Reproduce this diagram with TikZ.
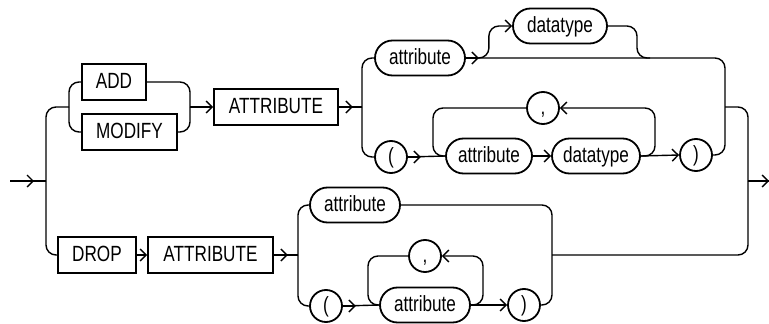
\documentclass[tikz,border=0pt]{standalone}
\usepackage{fontspec}
\setmainfont{Liberation Sans}[FakeStretch=0.78]
\usetikzlibrary{arrows.meta,shapes.misc}
\begin{document}
\begin{tikzpicture}[x=1pt,y=-1pt,
  every node/.style={inner sep=0pt, font=\fontsize{22}{25}\selectfont, text height=15.5pt, text depth=3pt},
  kw/.style={draw, rectangle, line width=1.8pt, minimum height=36pt},
  pill/.style={draw, rounded rectangle, line width=1.8pt, minimum height=35pt},
  circ/.style={draw, circle, line width=1.8pt, minimum size=32pt},
  conn/.style={line width=1.4pt, rounded corners=10pt},
  arr/.style={line width=1.4pt, -{Straight Barb[length=6pt,width=12pt]}}
]
\useasboundingbox (0,0) rectangle (769,324);
% nodes
\node[kw, minimum width=64pt] (add) at (114,82) {ADD};
\node[kw, minimum width=95pt] (modify) at (129.5,132) {MODIFY};
\node[kw, minimum width=124pt] (attrA) at (276,107) {ATTRIBUTE};
\node[kw, minimum width=78pt] (drop) at (97,255) {DROP};
\node[kw, minimum width=125pt] (attrB) at (210.5,255) {ATTRIBUTE};
\node[pill, minimum width=90pt] (a1) at (420,58) {attribute};
\node[pill, minimum width=94pt] (dt1) at (560,26) {datatype};
\node[circ] (lp1) at (391,157) {(};
\node[pill, minimum width=86pt] (a2) at (489,156) {attribute};
\node[pill, minimum width=88pt] (dt2) at (596,156) {datatype};
\node[circ] (cm1) at (543,108) {,};
\node[circ] (rp1) at (696,155) {)};
\node[pill, minimum width=90pt] (a3) at (355,205) {attribute};
\node[circ] (lp2) at (326,306) {(};
\node[pill, minimum width=90pt] (a4) at (425,305) {attribute};
\node[circ] (cm2) at (425,256) {,};
\node[circ] (rp2) at (524,305) {)};
% junction coordinates
\coordinate (in) at (10,181);
\coordinate (L) at (46,181);
\coordinate (F0) at (69,107);
\coordinate (J0) at (190,107);
\coordinate (F1) at (362,107);
\coordinate (F2) at (298,255);
\coordinate (R) at (748,181);
\coordinate (out) at (769,181);
% entry
\draw[conn] (in) -- (L);
\draw[arr] (in) -- ++(24,0);
\draw[conn] (L) |- (F0);
\draw[conn] (L) |- (drop.west);
% ADD / MODIFY
\draw[conn] (F0) |- (add.west);
\draw[conn] (F0) |- (modify.west);
\draw[conn] (add.east) -| (J0);
\draw[conn] (modify.east) -| (J0);
\draw[arr] (J0) -- (attrA.west);
\draw[conn] (attrA.east) -- (F1);
\draw[arr] (attrA.east) -- ++(14,0);
\draw[conn] (F1) |- (a1.west);
\draw[conn] (F1) |- (lp1.west);
% attribute [datatype]
\draw[arr] (a1.east) -- ++(13,0);
\draw[conn] (a1.east) -- (725,58) -- (725,155) -- (rp1.east);
\draw[conn,arr] (a1.east) -- ++(23,0) |- (dt1.west);
\draw[conn] (dt1.east) -- (637,26) -- (637,58) -- (650,58);
% ( attribute datatype , ... )
\draw[conn] (lp1.east) -- (a2.west);
\draw[arr] (lp1.east) -- ++(13,0);
\draw[arr] (a2.east) -- (dt2.west);
\draw[arr] (dt2.east) -- (rp1.west);
\draw[conn,arr] (dt2.east) -| (655,108) -- (cm1.east);
\draw[conn] (cm1.west) -| (433,156) -- (a2.west);
% merge upper
\draw[conn] (725,107) -| (R);
% DROP branch
\draw[arr] (drop.east) -- (attrB.west);
\draw[conn] (attrB.east) -- (F2);
\draw[arr] (attrB.east) -- ++(14,0);
\draw[conn] (F2) |- (a3.west);
\draw[conn] (F2) |- (lp2.west);
\draw[conn] (a3.east) -- (552,205) -- (552,305) -- (rp2.east);
\draw[conn] (lp2.east) -- (a4.west);
\draw[arr] (lp2.east) -- ++(13,0);
\draw[arr] (a4.east) -- (rp2.west);
\draw[conn,arr] (a4.east) -| (483,256) -- (cm2.east);
\draw[conn] (cm2.west) -| (368,305) -- (a4.west);
\draw[conn] (552,255) -| (R);
% exit
\draw[conn] (R) -- (out);
\draw[arr] (R) -- (out);
\end{tikzpicture}
\end{document}
